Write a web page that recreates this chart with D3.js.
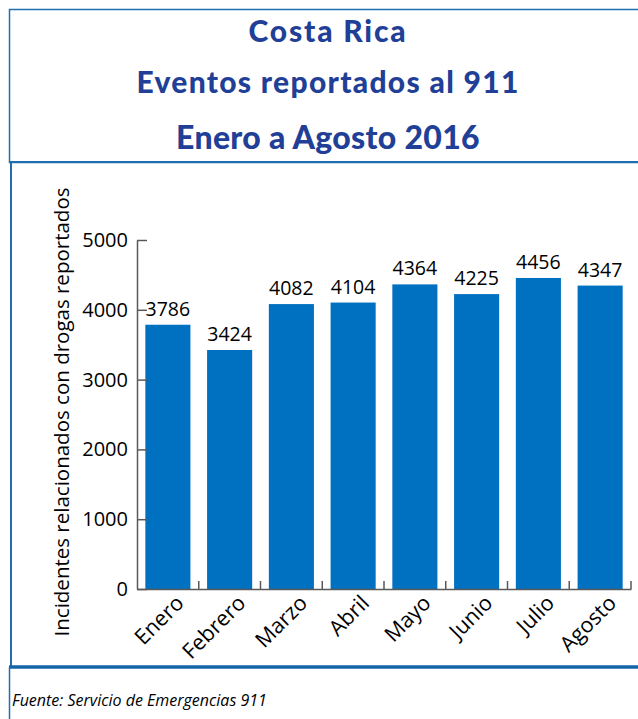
<!DOCTYPE html>
<html>
<head>
<meta charset="utf-8">
<script src="https://cdn.jsdelivr.net/npm/d3@7"></script>
<style>
  body { margin: 0; background: #fff; }
  svg { display: block; }
</style>
</head>
<body>
<svg width="638" height="719"></svg>
<script>
var months = ["Enero", "Febrero", "Marzo", "Abril", "Mayo", "Junio", "Julio", "Agosto"];
var eventos = [3786, 3424, 4082, 4104, 4364, 4225, 4456, 4347];
var yTicks = [0, 1000, 2000, 3000, 4000, 5000];
var titles = ["Costa Rica", "Eventos reportados al 911", "Enero a Agosto 2016"];

var svg = d3.select("svg");
var frame = "#1f6fb0";

// title box
svg.append("rect")
  .attr("x", 9.5).attr("y", 9.5)
  .attr("width", 640).attr("height", 153)
  .attr("fill", "none").attr("stroke", frame).attr("stroke-width", 1.5);
// chart box left edge + top line
svg.append("line").attr("x1", 11).attr("x2", 11).attr("y1", 162).attr("y2", 667)
  .attr("stroke", frame).attr("stroke-width", 2);
svg.append("line").attr("x1", 9).attr("x2", 638).attr("y1", 162).attr("y2", 162)
  .attr("stroke", frame).attr("stroke-width", 2);
// bottom thick line and footer edge
svg.append("line").attr("x1", 9).attr("x2", 638).attr("y1", 667).attr("y2", 667)
  .attr("stroke", "#1565a8").attr("stroke-width", 3.5);
svg.append("line").attr("x1", 9.5).attr("x2", 9.5).attr("y1", 667).attr("y2", 719)
  .attr("stroke", frame).attr("stroke-width", 1.5);

var titleY = [42, 93, 149];
var titleSize = [30, 30, 32];
var titleSpacing = [1.8, 1.3, 0.3];
svg.selectAll(".title")
  .data(titles)
  .enter().append("text")
  .attr("class", "title")
  .attr("x", 328)
  .attr("y", function(d, i) { return titleY[i]; })
  .attr("text-anchor", "middle")
  .attr("font-family", "Lato")
  .attr("font-weight", "900")
  .attr("font-size", function(d, i) { return titleSize[i] + "px"; })
  .attr("letter-spacing", function(d, i) { return titleSpacing[i]; })
  .attr("fill", "#213f96")
  .text(function(d) { return d; });

// chart
var plotLeft = 137, plotRight = 631, plotTop = 240, plotBottom = 589;

var x = d3.scaleBand().domain(months).range([plotLeft, plotRight]).paddingInner(0.27).paddingOuter(0.135);
var y = d3.scaleLinear().domain([0, 5000]).range([plotBottom, plotTop]);

var g = svg.append("g");

g.selectAll(".bar")
  .data(eventos)
  .enter().append("rect")
  .attr("class", "bar")
  .attr("x", function(d, i) { return x(months[i]); })
  .attr("y", function(d) { return y(d); })
  .attr("width", x.bandwidth())
  .attr("height", function(d) { return plotBottom - y(d); })
  .attr("fill", "#0070c0");

g.selectAll(".val")
  .data(eventos)
  .enter().append("text")
  .attr("class", "val")
  .attr("x", function(d, i) { return x(months[i]) + x.bandwidth() / 2; })
  .attr("y", function(d) { return y(d) - 9; })
  .attr("text-anchor", "middle")
  .attr("font-family", "Open Sans")
  .attr("font-size", "19.5px")
  .attr("fill", "#000")
  .text(function(d) { return d; });

// y axis, ticks pointing inward
var yAxis = g.append("g")
  .attr("transform", "translate(" + plotLeft + ",0)")
  .call(d3.axisLeft(y).tickValues(yTicks).tickSizeInner(-10).tickSizeOuter(0).tickPadding(9).tickFormat(d3.format("d")));
yAxis.select(".domain").attr("stroke", "#595959").attr("stroke-width", 1.5);
yAxis.selectAll(".tick line").attr("stroke", "#595959").attr("stroke-width", 1.5);
yAxis.selectAll(".tick text")
  .attr("font-family", "Open Sans").attr("font-size", "20px").attr("fill", "#000");

// x axis
var xAxis = g.append("g")
  .attr("transform", "translate(0," + plotBottom + ")")
  .call(d3.axisBottom(x).tickSize(0).tickPadding(10));
xAxis.select(".domain").attr("stroke", "#595959").attr("stroke-width", 1.5);
xAxis.selectAll(".tick text")
  .attr("font-family", "Open Sans").attr("font-size", "21.5px").attr("fill", "#000")
  .attr("text-anchor", "end")
  .attr("dy", "0.35em")
  .attr("transform", "translate(5,3) rotate(-45)");

// boundary ticks between categories
var step = x.step();
g.selectAll(".sep")
  .data(months)
  .enter().append("line")
  .attr("class", "sep")
  .attr("x1", function(d) { return x(d) - step * x.paddingOuter() + step; })
  .attr("x2", function(d) { return x(d) - step * x.paddingOuter() + step; })
  .attr("y1", plotBottom)
  .attr("y2", plotBottom - 8)
  .attr("stroke", "#595959").attr("stroke-width", 1.5);

// y title
svg.append("text")
  .attr("transform", "translate(69,412) rotate(-90)")
  .attr("text-anchor", "middle")
  .attr("font-family", "Open Sans")
  .attr("font-size", "20.5px")
  .attr("fill", "#000")
  .text("Incidentes relacionados con drogas reportados");

// footer
svg.append("text")
  .attr("x", 12).attr("y", 706)
  .attr("font-family", "Open Sans")
  .attr("font-style", "italic")
  .attr("font-size", "16px")
  .attr("fill", "#000")
  .text("Fuente: Servicio de Emergencias 911");
</script>
</body>
</html>
